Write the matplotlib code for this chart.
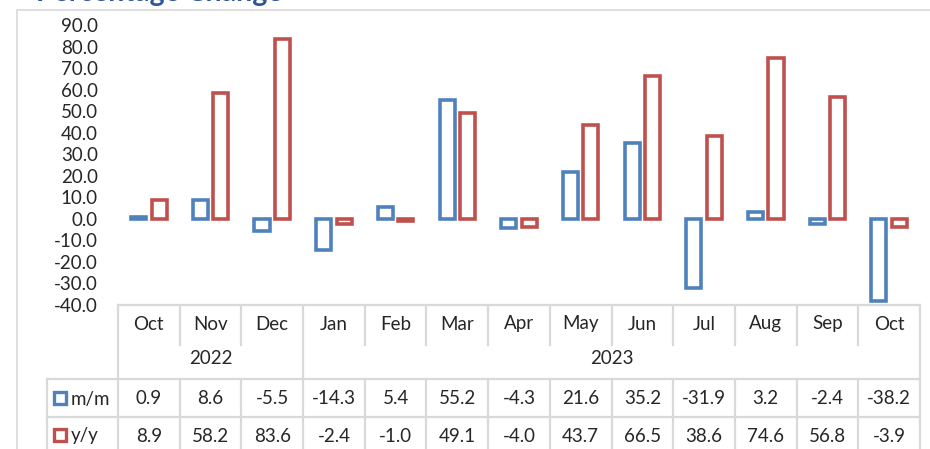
import matplotlib
matplotlib.use("Agg")
import matplotlib.pyplot as plt

plt.rcParams['font.family'] = ['Lato', 'DejaVu Sans']

# data
months = ['Oct', 'Nov', 'Dec', 'Jan', 'Feb', 'Mar', 'Apr', 'May', 'Jun', 'Jul', 'Aug', 'Sep', 'Oct']
years = [('2022', 0, 3), ('2023', 3, 13)]
mm = [0.9, 8.6, -5.5, -14.3, 5.4, 55.2, -4.3, 21.6, 35.2, -31.9, 3.2, -2.4, -38.2]
yy = [8.9, 58.2, 83.6, -2.4, -1.0, 49.1, -4.0, 43.7, 66.5, 38.6, 74.6, 56.8, -3.9]
yticks = list(range(-40, 91, 10))

BLUE = '#4F81BD'
RED = '#C0504D'
GRID = '#D9D9D9'
TXT = '#262626'
FS = 13.5

W, H = 930, 449
fig = plt.figure(figsize=(W / 100, H / 100), dpi=100)

# overlay in pixel coords for border, title and table
ov = fig.add_axes([0, 0, 1, 1])
ov.set_xlim(0, W)
ov.set_ylim(H, 0)
ov.axis('off')

# chart border
ov.plot([17, 17, W + 5], [H + 5, 10, 10], color=GRID, lw=1.2, clip_on=False)
# title sits mostly above the top edge, as in the source image
ov.text(36, 1.5, 'Percentage Change', color='#2E5597', fontsize=20.5,
        fontweight='bold', ha='left', va='baseline')

# bars
x0, x1 = 118, 920
top, bot = 25, 305
cw = (x1 - x0) / len(months)
ax = fig.add_axes([x0 / W, 1 - bot / H, (x1 - x0) / W, (bot - top) / H])
ax.set_xlim(-0.5, len(months) - 0.5)
ax.set_ylim(-40, 90)
xs = range(len(months))
bw = 0.245
ax.bar([i - 0.166 for i in xs], mm, width=bw, facecolor='white', edgecolor=BLUE, lw=2.6, clip_on=False)
ax.bar([i + 0.166 for i in xs], yy, width=bw, facecolor='white', edgecolor=RED, lw=2.6, clip_on=False)
for s in ax.spines.values():
    s.set_visible(False)
ax.set_xticks([])
ax.set_yticks(yticks)
ax.set_yticklabels(['%.1f' % v for v in yticks], fontsize=FS, color=TXT)
ax.tick_params(axis='y', length=0, pad=14.5)
ax.patch.set_alpha(0)

# table
r_month, r_year_end, r_mm, r_yy, r_end = 305, 345, 379, 417, H + 5
lw = 1.6
ov.plot([x0, x1], [r_month, r_month], color=GRID, lw=lw)
ov.plot([47, x1], [r_mm, r_mm], color=GRID, lw=lw)
ov.plot([47, x1], [r_yy, r_yy], color=GRID, lw=lw)
ov.plot([47, 47], [r_mm, r_end], color=GRID, lw=lw, clip_on=False)
year_edges = {s for _, s, e in years} | {e for _, s, e in years}
for i in range(len(months) + 1):
    xe = x0 + i * cw
    if i in year_edges:
        ov.plot([xe, xe], [r_month, r_end], color=GRID, lw=lw, clip_on=False)
    else:
        ov.plot([xe, xe], [r_month, r_year_end], color=GRID, lw=lw)
        ov.plot([xe, xe], [r_mm, r_end], color=GRID, lw=lw, clip_on=False)

for i, m in enumerate(months):
    cx = x0 + (i + 0.5) * cw
    ov.text(cx, 324, m, ha='center', va='center', fontsize=FS, color=TXT)
    ov.text(cx, 399, '%.1f' % mm[i], ha='center', va='center', fontsize=FS, color=TXT)
    ov.text(cx, 436, '%.1f' % yy[i], ha='center', va='center', fontsize=FS, color=TXT)
for label, s, e in years:
    cx = x0 + (s + e) / 2 * cw
    ov.text(cx, 359, label, ha='center', va='center', fontsize=FS, color=TXT)

for label, color, ry in [('m/m', BLUE, 399), ('y/y', RED, 436)]:
    ov.add_patch(plt.Rectangle((54, ry - 7), 12, 12, facecolor='white',
                               edgecolor=color, lw=2.4))
    ov.text(71, ry, label, ha='left', va='center', fontsize=FS, color=TXT)

fig.savefig('out.png', dpi=100)
